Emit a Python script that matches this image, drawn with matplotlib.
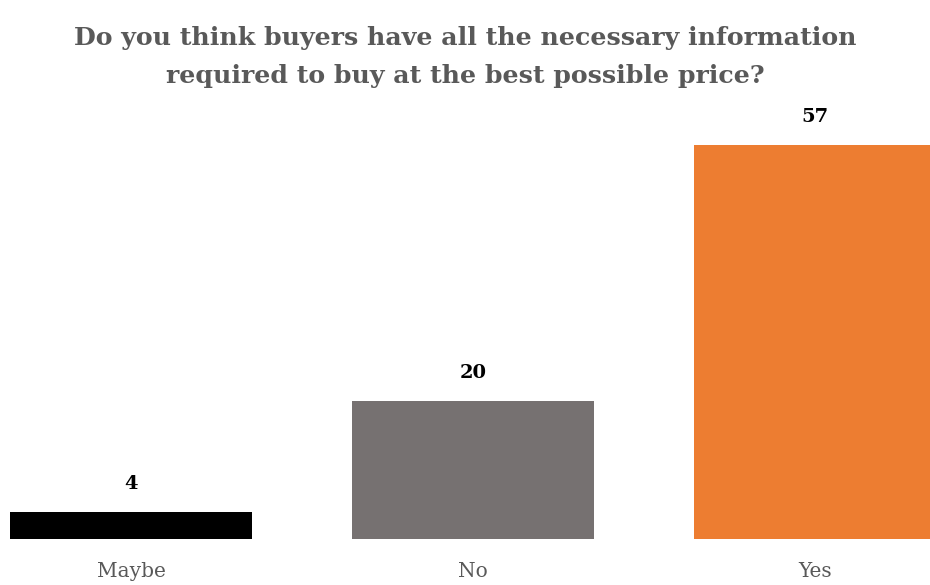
import matplotlib.pyplot as plt

categories = ["Maybe", "No", "Yes"]
values = [4, 20, 57]
colors = ["#000000", "#767171", "#ED7D31"]

title = "Do you think buyers have all the necessary information\nrequired to buy at the best possible price?"

plt.rcParams['font.family'] = ['DejaVu Serif']

fig = plt.figure(figsize=(9.3, 5.85), dpi=100)
ax = fig.add_axes([0, 0.0778, 1, 0.6744])

x = list(range(len(categories)))
ax.bar(x, values, width=0.71, color=colors)

# bar centres at ~131, 473, 815 px; spacing 342 px
ax.set_xlim(-131 / 342, (930 - 131) / 342)
ax.set_ylim(0, 57)

for xi, v in zip(x, values):
    ax.annotate(str(v), (xi, v), xytext=(0, 20), textcoords="offset points",
                ha="center", va="center", fontsize=14, fontweight="bold",
                color="black", annotation_clip=False)

ax.set_xticks(x)
ax.set_xticklabels(categories, fontsize=14.5, color="#595959")
ax.tick_params(axis="x", length=0, pad=16)
ax.set_yticks([])
for s in ax.spines.values():
    s.set_visible(False)

fig.text(0.5, 0.903, title, ha="center", va="center", fontsize=18.2,
         fontweight="bold", color="#595959", linespacing=1.75)

fig.savefig("out.png", dpi=100)
